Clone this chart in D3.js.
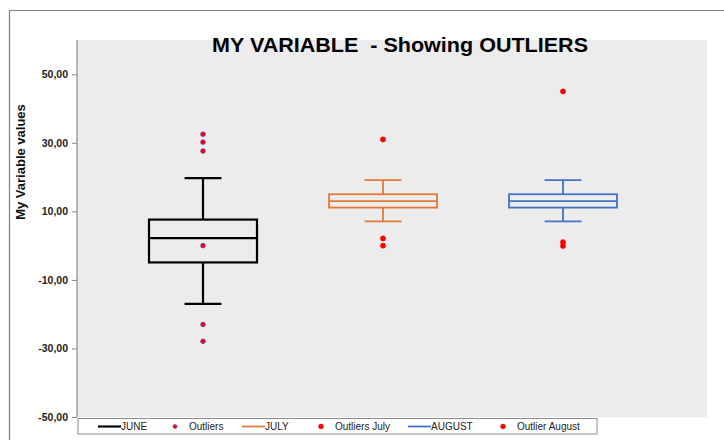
<!DOCTYPE html>
<html>
<head>
<meta charset="utf-8">
<script src="https://cdn.jsdelivr.net/npm/d3@7"></script>
<style>
  html, body { margin: 0; padding: 0; background: #fff; }
  svg { display: block; font-family: "Liberation Sans", Arial, sans-serif; }
</style>
</head>
<body>
<svg id="chart" width="724" height="440"></svg>
<script>
// ---- data ----
const categories   = ["JUNE", "JULY", "AUGUST"];
const whiskerHigh  = [19.7, 19.1, 19.1];
const q3           = [7.6, 15.0, 15.0];
const median       = [2.2, 13.0, 13.0];
const q1           = [-4.9, 11.1, 11.1];
const whiskerLow   = [-17.0, 7.1, 7.1];
const outliersJune   = [32.5, 30.2, 27.6, 0.0, -23.0, -27.9];
const outliersJuly   = [31.0, 2.1, 0.0];
const outliersAugust = [45.0, 1.0, -0.1];
const yTicks = [-50, -30, -10, 10, 30, 50];
const legendLabels = ["JUNE", "Outliers", "JULY", "Outliers July", "AUGUST", "Outlier August"];

// ---- styles ----
const boxColors = ["#000000", "#E07B39", "#4472C4"];
const boxStroke = [2.2, 1.8, 1.8];
const outlierSets = [outliersJune, outliersJuly, outliersAugust];
const outlierStyle = [
  { fill: "#ff0000", stroke: "#7030a0", r: 2.3, sw: 0.8 },
  { fill: "#ff0000", stroke: "#ff0000", r: 2.6, sw: 0.5 },
  { fill: "#ff0000", stroke: "#ff0000", r: 2.6, sw: 0.5 }
];

const svg = d3.select("#chart");
const plot = { left: 77, right: 707, top: 40, bottom: 417 };

// outer frame (left and top edges)
svg.append("path")
  .attr("d", "M9.5,440 L9.5,10.5 L724,10.5")
  .attr("fill", "none").attr("stroke", "#7f7f7f").attr("stroke-width", 1.2);

// scales
const x = d3.scaleLinear().domain([0.3, 3.8]).range([plot.left, plot.right]);
const y = d3.scaleLinear().domain([-50, 60]).range([plot.bottom, plot.top]);

// plot background
svg.append("rect")
  .attr("x", plot.left).attr("y", plot.top)
  .attr("width", plot.right - plot.left).attr("height", plot.bottom - plot.top)
  .attr("fill", "#ececec");

// y axis
const yAxis = svg.append("g")
  .attr("transform", `translate(${plot.left},0)`)
  .call(d3.axisLeft(y).tickValues(yTicks).tickSize(5).tickPadding(4)
    .tickFormat(d => d.toFixed(2).replace(".", ",")));
yAxis.select(".domain").attr("stroke", "#8c8c8c").attr("stroke-width", 1.2)
  .attr("d", `M0,${plot.top}V${plot.bottom}`);
yAxis.selectAll(".tick line").attr("stroke", "#8c8c8c");
yAxis.selectAll(".tick text")
  .attr("font-size", 10.5).attr("font-weight", "bold").attr("fill", "#222")
  .attr("font-family", "Liberation Sans, Arial, sans-serif");

// y label
svg.append("text")
  .attr("transform", `translate(25,${162}) rotate(-90)`)
  .attr("text-anchor", "middle")
  .attr("font-size", 13).attr("font-weight", "bold").attr("fill", "#111")
  .text("My Variable values");

// boxes
const boxW = 0.6, capW = 0.205;
categories.forEach((c, i) => {
  const cx = i + 1;
  const g = svg.append("g").attr("stroke", boxColors[i]).attr("stroke-width", boxStroke[i]).attr("fill", "none");
  // whiskers
  g.append("line").attr("x1", x(cx)).attr("x2", x(cx)).attr("y1", y(whiskerHigh[i])).attr("y2", y(q3[i]));
  g.append("line").attr("x1", x(cx)).attr("x2", x(cx)).attr("y1", y(q1[i])).attr("y2", y(whiskerLow[i]));
  g.append("line").attr("x1", x(cx - capW / 2)).attr("x2", x(cx + capW / 2)).attr("y1", y(whiskerHigh[i])).attr("y2", y(whiskerHigh[i]));
  g.append("line").attr("x1", x(cx - capW / 2)).attr("x2", x(cx + capW / 2)).attr("y1", y(whiskerLow[i])).attr("y2", y(whiskerLow[i]));
  // box
  g.append("rect")
    .attr("x", x(cx - boxW / 2)).attr("y", y(q3[i]))
    .attr("width", x(cx + boxW / 2) - x(cx - boxW / 2))
    .attr("height", y(q1[i]) - y(q3[i]));
  g.append("line").attr("x1", x(cx - boxW / 2)).attr("x2", x(cx + boxW / 2)).attr("y1", y(median[i])).attr("y2", y(median[i]));
  // outliers
  const st = outlierStyle[i];
  svg.append("g").selectAll("circle").data(outlierSets[i]).join("circle")
    .attr("cx", x(cx)).attr("cy", d => y(d)).attr("r", st.r)
    .attr("fill", st.fill).attr("stroke", st.stroke).attr("stroke-width", st.sw);
});

// title
svg.append("text")
  .attr("x", 400).attr("y", 51.5)
  .attr("text-anchor", "middle")
  .attr("font-size", 20).attr("font-weight", "bold").attr("fill", "#000")
  .attr("textLength", 376).attr("lengthAdjust", "spacingAndGlyphs")
  .style("white-space", "pre")
  .text("MY VARIABLE  - Showing OUTLIERS");

// legend
const legend = svg.append("g");
legend.append("rect").attr("x", 78).attr("y", 418.5).attr("width", 519).attr("height", 15.5)
  .attr("fill", "#fff").attr("stroke", "#8c8c8c").attr("stroke-width", 1);
const legendX = [98, 175, 242, 321, 408, 503];
const legendKinds = ["line", "dot", "line", "dot", "line", "dot"];
const legendColor = ["#000000", "#ff0000", "#E07B39", "#ff0000", "#4472C4", "#ff0000"];
const legendDotStroke = ["", "#7030a0", "", "#ff0000", "", "#ff0000"];
legendLabels.forEach((lab, i) => {
  const ly = 426.5;
  if (legendKinds[i] === "line") {
    legend.append("line").attr("x1", legendX[i]).attr("x2", legendX[i] + 23)
      .attr("y1", ly).attr("y2", ly)
      .attr("stroke", legendColor[i]).attr("stroke-width", i === 0 ? 2.2 : 1.8);
    legend.append("text").attr("x", legendX[i] + 23).attr("y", ly + 3.6)
      .attr("font-size", 10).attr("fill", "#222").text(lab);
  } else {
    legend.append("circle").attr("cx", legendX[i]).attr("cy", ly).attr("r", i === 1 ? 2 : 2.4)
      .attr("fill", legendColor[i]).attr("stroke", legendDotStroke[i]).attr("stroke-width", 0.6);
    legend.append("text").attr("x", legendX[i] + 14).attr("y", ly + 3.6)
      .attr("font-size", 10).attr("fill", "#222").text(lab);
  }
});
</script>
</body>
</html>
